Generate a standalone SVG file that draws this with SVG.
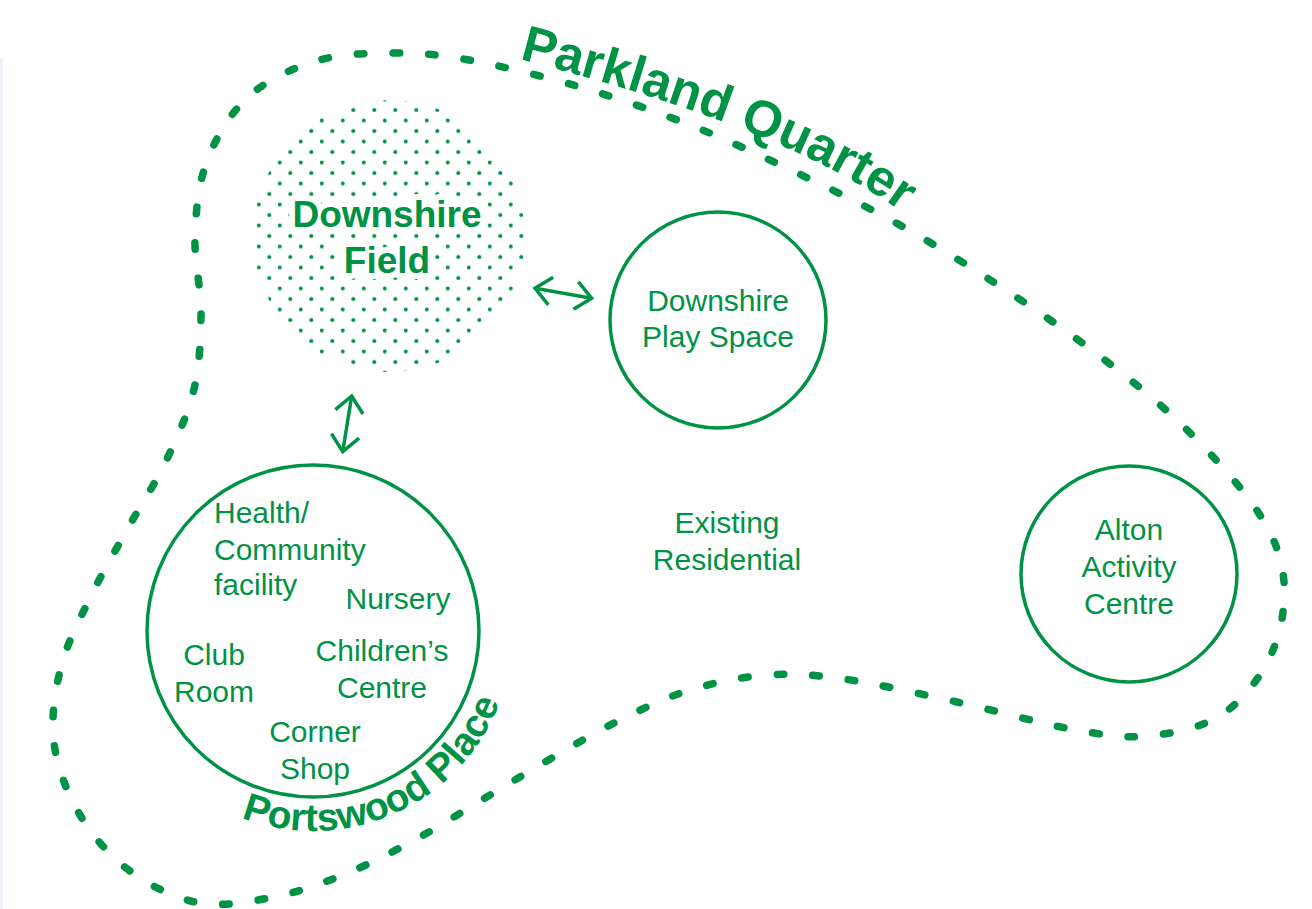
<svg xmlns="http://www.w3.org/2000/svg" width="1312" height="909" viewBox="0 0 1312 909">
<style>
.reg{font-family:"Liberation Sans",Arial,Helvetica,sans-serif;font-size:30px;fill:#009245}
.bold{font-family:"Liberation Sans",Arial,Helvetica,sans-serif;font-weight:bold;fill:#009245}
.ring{fill:none;stroke:#009245;stroke-width:3.5}
.loop{fill:none;stroke:#009245;stroke-width:7.5;stroke-linecap:round;stroke-dasharray:7 31}
.arrow{fill:none;stroke:#009245;stroke-width:3.5}
</style>
<defs>
<pattern id="dots" patternUnits="userSpaceOnUse" x="12.05" y="20.75" width="21" height="21">
<circle cx="5.25" cy="5.25" r="2" fill="#009245"/>
<circle cx="15.75" cy="15.75" r="2" fill="#009245"/>
</pattern>
<clipPath id="fieldClip"><circle cx="389" cy="236" r="136"/></clipPath>
<marker id="chev" markerUnits="userSpaceOnUse" viewBox="-20 -16 22 32" refX="0" refY="0" markerWidth="22" markerHeight="32" orient="auto-start-reverse" overflow="visible">
<path d="M -16 -14 L 0 0 L -16 14" fill="none" stroke="#009245" stroke-width="3.5"/>
</marker>
<path id="pqPath" d="M 519 59 Q 799 131 912 220"/>
<path id="ppPath" d="M 241.3 817.7 A 200 200 0 0 0 504.3 689.5"/>
</defs>
<rect width="1312" height="909" fill="#ffffff"/>
<rect x="0" y="58" width="3" height="851" fill="#eef2fb"/>

<g id="parkland-quarter-boundary">
<path class="loop" pathLength="3610" d="M 393 53 C 418.5 52.8, 437.8 54.3, 469 60 C 500.2 65.7, 543.2 76.2, 580 87 C 616.8 97.8, 654.2 110.8, 690 125 C 725.8 139.2, 760.3 155.5, 795 172 C 829.7 188.5, 864.2 205.2, 898 224 C 931.8 242.8, 965.5 263.8, 998 285 C 1030.5 306.2, 1062.3 327.7, 1093 351 C 1123.7 374.3, 1154.5 398.2, 1182 425 C 1209.5 451.8, 1241 485.8, 1258 512 C 1275 538.2, 1282 557.8, 1284 582 C 1286 606.2, 1280.5 634.8, 1270 657 C 1259.5 679.2, 1241.5 701.8, 1221 715 C 1200.5 728.2, 1172 733.7, 1147 736 C 1122 738.3, 1102.7 734.7, 1071 729 C 1039.3 723.3, 994.8 710.3, 957 702 C 919.2 693.7, 875.7 683.5, 844 679 C 812.3 674.5, 792.7 673.2, 767 675 C 741.3 676.8, 714.5 682.5, 690 690 C 665.5 697.5, 643 708.7, 620 720 C 597 731.3, 574.5 745, 552 758 C 529.5 771, 507 784.8, 485 798 C 463 811.2, 442.5 824.7, 420 837 C 397.5 849.3, 373.7 862.2, 350 872 C 326.3 881.8, 303 890.8, 278 896 C 253 901.2, 224.7 907.2, 200 903 C 175.3 898.8, 150 885.7, 130 871 C 110 856.3, 92.7 836.3, 80 815 C 67.3 793.7, 57.2 767.7, 54 743 C 50.8 718.3, 54.8 691.5, 61 667 C 67.2 642.5, 79.8 619.2, 91 596 C 102.2 572.8, 115.5 550.5, 128 528 C 140.5 505.5, 155 484.2, 166 461 C 177 437.8, 188.2 413.7, 194 389 C 199.8 364.3, 200.8 338.5, 201 313 C 201.2 287.5, 194 261.3, 195 236 C 196 210.7, 198.2 184.2, 207 161 C 215.8 137.8, 229.8 113.7, 248 97 C 266.2 80.3, 291.8 68.3, 316 61 C 340.2 53.7, 367.5 53.2, 393 53 Z"/>
<text class="bold" font-size="51"><textPath href="#pqPath">Parkland Quarter</textPath></text>
</g>

<g id="downshire-field">
<rect x="250" y="97" width="280" height="280" fill="url(#dots)" clip-path="url(#fieldClip)"/>
<g class="bold" font-size="37" text-anchor="middle" stroke="#ffffff" stroke-width="12" stroke-linejoin="round" paint-order="stroke">
<text x="387" y="227">Downshire</text>
<text x="387" y="273">Field</text>
</g>
</g>

<g id="downshire-play-space">
<circle class="ring" cx="718" cy="320" r="108"/>
<text class="reg" x="718" y="311" text-anchor="middle">Downshire</text>
<text class="reg" x="718" y="347" text-anchor="middle">Play Space</text>
</g>

<g id="existing-residential">
<text class="reg" x="727" y="533" text-anchor="middle">Existing</text>
<text class="reg" x="727" y="570" text-anchor="middle">Residential</text>
</g>

<g id="alton-activity-centre">
<circle class="ring" cx="1129" cy="574" r="108"/>
<text class="reg" x="1129" y="540" text-anchor="middle">Alton</text>
<text class="reg" x="1129" y="577" text-anchor="middle">Activity</text>
<text class="reg" x="1129" y="614" text-anchor="middle">Centre</text>
</g>

<g id="portswood-place">
<circle class="ring" cx="313" cy="631" r="166"/>
<text class="reg" x="214" y="523">Health/</text>
<text class="reg" x="214" y="560">Community</text>
<text class="reg" x="214" y="595">facility</text>
<text class="reg" x="398" y="609" text-anchor="middle">Nursery</text>
<text class="reg" x="214" y="665" text-anchor="middle">Club</text>
<text class="reg" x="214" y="702" text-anchor="middle">Room</text>
<text class="reg" x="382" y="661" text-anchor="middle">Children’s</text>
<text class="reg" x="382" y="698" text-anchor="middle">Centre</text>
<text class="reg" x="315" y="742" text-anchor="middle">Corner</text>
<text class="reg" x="315" y="779" text-anchor="middle">Shop</text>
<text class="bold" font-size="39"><textPath href="#ppPath">Portswood Place</textPath></text>
</g>

<g id="connectors">
<line class="arrow" x1="535" y1="288.3" x2="591.7" y2="298.3" marker-start="url(#chev)" marker-end="url(#chev)"/>
<line class="arrow" x1="351.7" y1="396" x2="342.7" y2="451.7" marker-start="url(#chev)" marker-end="url(#chev)"/>
</g>
</svg>
